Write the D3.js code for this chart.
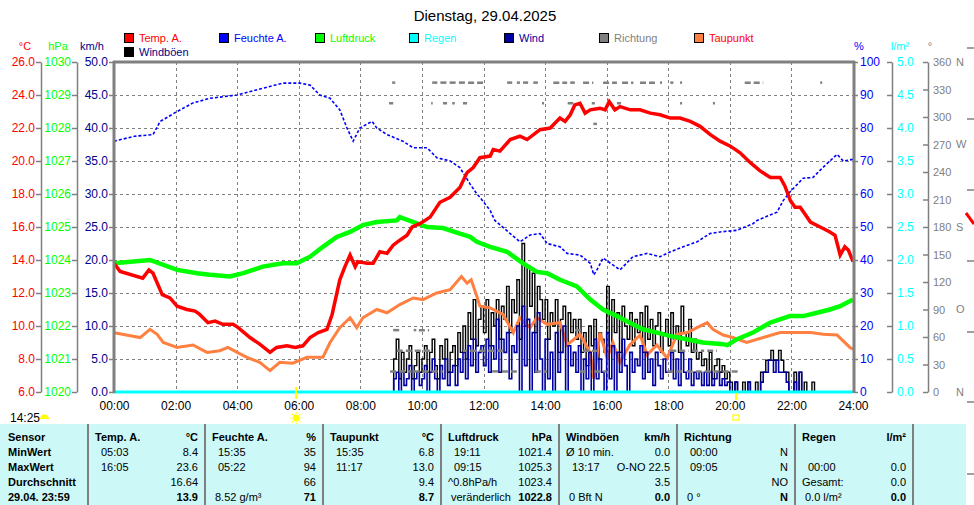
<!DOCTYPE html>
<html><head><meta charset="utf-8">
<script src="https://cdn.jsdelivr.net/npm/d3@7"></script>
<style>
body{margin:0;background:#fff}
svg{display:block}
text{font-family:"Liberation Sans",Arial,sans-serif}
</style>
</head><body>
<svg id="c" width="974" height="505"></svg>
<script>
// ---------- DATA ----------
const title = "Dienstag, 29.04.2025";
const xTickLabels = ["00:00","02:00","04:00","06:00","08:00","10:00","12:00","14:00","16:00","18:00","20:00","22:00","24:00"];
const tempTicks = [6,8,10,12,14,16,18,20,22,24,26];
const pressTicks = [1020,1021,1022,1023,1024,1025,1026,1027,1028,1029,1030];
const windTicks = [0,5,10,15,20,25,30,35,40,45,50];
const humTicks = [0,10,20,30,40,50,60,70,80,90,100];
const rainTicks = [0,0.5,1,1.5,2,2.5,3,3.5,4,4.5,5];
const dirTicks = [0,30,60,90,120,150,180,210,240,270,300,330,360];
const dirLetters = {0:"N",90:"O",180:"S",270:"W",360:"N"};

const tempTimes = ["00:00","00:12","00:56","01:08","01:16","01:34","01:49","02:03","02:22","02:38","02:47","03:03","03:17","03:32","03:52","04:02","04:25","04:44","05:04","05:17","05:37","05:53","06:08","06:22","06:38","06:55","07:05","07:20","07:30","07:40","07:50","07:55","08:13","08:25","08:38","08:52","09:04","09:17","09:31","09:41","09:56","10:16","10:35","10:55","11:14","11:28","11:40","11:53","12:13","12:19","12:32","12:52","13:11","13:25","13:50","14:10","14:29","14:39","14:49","14:58","15:08","15:18","15:28","15:47","15:57","16:05","16:16","16:26","16:46","17:05","17:25","17:44","18:04","18:23","18:43","19:02","19:22","19:41","20:01","20:20","20:40","20:59","21:19","21:38","21:47","21:58","22:07","22:17","22:26","22:37","22:56","23:15","23:25","23:35","23:44","23:51","24:00"];
const tempValues = [13.8,13.3,12.9,13.4,13.2,11.9,11.7,11.2,11.0,10.9,10.7,10.2,10.3,10.1,10.1,9.9,9.3,8.9,8.4,8.7,8.8,8.7,8.8,9.3,9.6,9.8,10.7,12.8,13.6,14.3,13.6,13.9,13.8,13.8,14.5,14.4,14.9,15.2,15.5,16.0,16.2,16.6,17.5,17.8,18.4,19.3,19.6,20.2,20.3,20.7,20.6,21.3,21.5,21.3,21.9,22.0,22.6,22.4,22.8,23.4,23.5,22.9,23.1,23.2,23.1,23.6,23.1,23.3,23.1,23.1,22.9,22.8,22.6,22.6,22.4,22.1,21.6,21.2,20.9,20.5,19.9,19.4,19.0,19.0,18.5,17.6,17.2,17.2,16.8,16.3,16.0,15.7,15.5,14.3,14.8,14.6,13.9];

const humTimes = ["00:00","00:40","01:16","01:30","02:03","02:34","03:07","04:00","04:44","05:29","06:02","06:22","06:41","07:01","07:20","07:34","07:46","07:59","08:23","08:32","08:52","09:23","09:43","10:10","10:29","10:55","11:14","11:34","11:47","11:53","12:13","12:22","12:52","13:11","13:31","13:50","14:04","14:29","14:43","15:08","15:28","15:35","15:41","15:53","16:12","16:26","16:51","17:19","17:44","18:03","18:29","18:56","19:21","19:41","20:14","20:45","20:53","21:18","21:32","21:44","21:57","22:23","22:42","23:01","23:29","23:41","24:00"];
const humValues = [76,77.5,78,82,85,87.6,89,90,91.8,93.6,93.6,93,90,89,85.5,80,76,80,82,80,78,76,74,74,71,70,68,63,60,59,55,52,48,45.5,47.6,48,45,44,42,41.5,39,35.5,37,40.6,38.5,37,41,42,41,42.4,44,45.5,48,48.5,49,51,52,53.6,54.5,58,60.6,64.8,65,68,72,70,70.5];

const pressTimes = ["00:00","01:10","02:03","02:42","03:07","03:46","04:12","04:50","05:29","05:56","06:22","06:47","07:14","07:40","08:05","08:32","09:11","09:17","10:10","10:41","11:14","11:34","11:47","12:13","12:46","13:17","13:44","14:04","14:29","15:02","15:28","15:53","16:20","16:45","17:11","17:38","18:03","18:36","19:07","19:47","19:55","20:14","20:45","21:18","21:57","22:23","22:50","23:15","23:35","24:00"];
const pressValues = [1023.9,1024.0,1023.7,1023.6,1023.55,1023.5,1023.6,1023.8,1023.9,1023.9,1024.1,1024.4,1024.7,1024.85,1025.06,1025.15,1025.2,1025.3,1025.0,1024.97,1024.8,1024.7,1024.55,1024.4,1024.25,1023.9,1023.64,1023.6,1023.4,1023.2,1022.8,1022.5,1022.3,1022.1,1021.9,1021.8,1021.7,1021.6,1021.5,1021.45,1021.42,1021.6,1021.8,1022.1,1022.3,1022.3,1022.4,1022.5,1022.6,1022.8];

const dewTimes = ["00:00","00:51","01:10","01:24","01:36","02:03","02:34","03:01","03:26","03:42","04:00","04:19","04:44","05:04","05:23","05:48","06:16","06:47","07:01","07:20","07:40","07:53","08:05","08:32","08:52","09:17","09:43","10:02","10:29","10:55","11:17","11:28","11:36","11:47","11:53","12:13","12:38","12:58","13:11","13:31","13:44","14:04","14:29","14:43","15:08","15:28","15:35","15:47","16:01","16:12","16:26","16:45","17:05","17:19","17:38","17:58","18:17","18:37","18:56","19:16","19:27","19:47","20:06","20:33","21:05","21:38","22:11","22:37","23:02","23:29","23:54","24:00"];
const dewValues = [9.6,9.3,9.8,9.5,9.0,8.7,8.85,8.4,8.5,8.7,8.4,8.1,7.8,7.3,7.8,7.75,8.1,8.1,9.0,9.9,10.5,9.9,10.5,11.0,10.8,11.3,11.7,11.6,12.0,12.2,13.0,12.6,12.8,11.8,11.2,11.1,10.7,9.6,10.5,9.9,10.5,10.1,10.2,8.85,9.5,8.4,6.8,9.6,8.05,9.0,7.8,8.85,9.45,8.25,8.85,8.05,9.5,9.6,9.9,10.2,9.8,9.45,9.3,9.0,9.3,9.6,9.6,9.6,9.5,9.45,8.7,8.6];

const rainTimes = ["00:00","24:00"];
const rainValues = [0,0];

// wind & gusts, 5-minute values from 09:00
const windStart = "09:00";
const windStepMin = 5;
const gustValues = [
 0,5,8,2,6,3,5,7,2,4,6,3,
 5,7,3,6,8,4,2,7,5,8,3,6,
 7,4,9,6,10,5,12,8,14,7,11,13,
 9,14,7,12,10,14,8,13,11,16,9,14,
 12,17,8,22.5,10,19,13,18,9,16,14,11,
 14,8,12,10,14,6,11,13,7,12,9,11,
 8,11,6,9,4,10,7,11,5,9,8,6,
 16,7,14,9,12,6,13,10,8,12,7,11,
 9,12,6,13,8,11,7,10,12,6,9,11,
 7,12,8,10,6,13,9,7,11,6,8,5,
 6,4,5,3,6,2,4,5,3,4,2,3,
 1.5,0,1.5,0,0,1.5,0,1.5,0,0,1.5,0,
 3,3,4.8,4.8,6.3,4.8,4.8,6.3,4.8,3,3,0,
 0,3,0,3,0,1.5,0,0,1.5,0,0,0,
 0];
const windValues = [
 0,2,3,0,3,1,2,4,0,2,3,1,
 2,4,0,3,5,2,0,4,2,5,1,3,
 4,1,5,3,6,2,7,4,8,3,6,7,
 4,8,3,7,5,11,3,8,6,9,2,7,
 6,10,0,13,4,11,0,9,3,12,5,0,
 8,2,6,0,9,3,6,10,0,7,4,6,
 3,7,0,5,2,6,0,8,2,5,3,0,
 9,2,7,0,6,3,8,4,0,6,3,5,
 4,7,2,6,3,5,1,6,4,2,5,3,
 3,6,2,5,1,6,3,2,5,1,3,2,
 3,1,3,1,3,1,2,3,1,2,1,1.5,
 0,0,1.5,0,0,0,0,1.5,0,0,0,0,
 1.5,3,3,4.8,4.8,3,4.8,3,3,3,1.5,0,
 0,1.5,0,3,0,0,0,0,0,0,0,0,
 0];

// wind direction observations: from, to, degrees
const dirFrom = ["09:02","10:20","10:36","10:54","11:12","11:30","12:46","13:05","13:17","13:37","14:16","14:49","15:14","15:53","16:30","17:05","17:44","18:04","18:23","20:29","22:56",
 "08:56","10:18","10:41","10:59","11:20","13:54","14:44","15:31","16:02","16:20","18:23","19:27",
 "15:34",
 "09:04","09:44","09:54","14:58",
 "09:11","11:20","11:34","15:14","18:04","18:46","19:16",
 "08:58","09:44","12:17","12:36","13:40","15:08","15:36","17:58","18:36","19:46"];
const dirTo = ["09:08","10:30","10:48","11:06","11:24","11:59","12:56","13:11","13:27","13:46","14:43","14:58","15:34","16:20","16:52","17:38","17:48","18:10","18:27","21:05","23:00",
 "09:04","10:21","10:49","11:04","11:28","13:58","14:55","15:37","16:10","16:28","18:27","19:31",
 "15:41",
 "09:17","09:49","10:14","15:14",
 "10:20","11:28","12:38","15:41","18:40","19:10","19:35",
 "09:40","10:41","12:30","13:05","14:04","15:30","16:00","18:30","19:40","20:16"];
const dirDeg = [337.5,337.5,337.5,337.5,337.5,337.5,337.5,337.5,337.5,337.5,337.5,337.5,337.5,337.5,337.5,337.5,337.5,337.5,337.5,337.5,337.5,
 315,315,315,315,315,315,315,315,315,315,315,315,
 292.5,
 67.5,67.5,67.5,67.5,
 45,45,45,45,45,45,45,
 22.5,22.5,22.5,22.5,22.5,22.5,22.5,22.5,22.5,22.5];

// legend
const legendNames = ["Temp. A.","Feuchte A.","Luftdruck","Regen","Wind","Richtung","Taupunkt"];
const legendFill = ["#ff0000","#0000ff","#00ff00","#00ffff","#0000a0","#808080","#ff8040"];
const legendText = ["#ff0000","#0000ff","#00ff00","#00ffff","#0000a0","#808080","#ff0000"];

// table
const tableHeaders = ["Sensor","Temp. A.","Feuchte A.","Taupunkt","Luftdruck","Windböen","Richtung","Regen"];
const tableUnits = ["","°C","%","°C","hPa","km/h","","l/m²"];
const rowLabels = ["MinWert","MaxWert","Durchschnitt","29.04. 23:59"];
const tableLeft = [
 null,
 ["05:03","16:05","",""],
 ["15:35","05:22","","8.52 g/m³"],
 ["15:35","11:17","",""],
 ["19:11","09:15","^0.8hPa/h","veränderlich"],
 ["Ø 10 min.","13:17","","0 Bft N"],
 ["00:00","09:05","","0 °"],
 ["","00:00","Gesamt:","0.0 l/m²"]];
const tableRight = [
 null,
 ["8.4","23.6","16.64","13.9"],
 ["35","94","66","71"],
 ["6.8","13.0","9.4","8.7"],
 ["1021.4","1025.3","1023.4","1022.8"],
 ["0.0","O-NO 22.5","3.5","0.0"],
 ["N","N","NO","N"],
 ["","0.0","0.0","0.0"]];
const sunshine = "14:25";
const sunrise = "05:55", sunset = "20:12";

// ---------- DRAW ----------
const tp = s => { const [h,m] = s.split(":").map(Number); return h + m/60; };
const svg = d3.select("#c");
const L = 114, R = 853, T = 62, B = 392;
const x = d3.scaleLinear([0,24],[L,R]);
const yT = d3.scaleLinear([6,26],[B,T]);
const yP = d3.scaleLinear([1020,1030],[B,T]);
const yW = d3.scaleLinear([0,50],[B,T]);
const yH = d3.scaleLinear([0,100],[B,T]);
const yR = d3.scaleLinear([0,5],[B,T]);
const yD = d3.scaleLinear([0,360],[B,T]);
const GRAY = "#808080";

svg.append("rect").attr("width",974).attr("height",505).attr("fill","#fff");

// title
svg.append("text").attr("x",485).attr("y",21).attr("text-anchor","middle")
  .attr("font-size",15).text(title);

// unit headers
const units = [["°C",25,"#ff0000"],["hPa",58,"#00ff00"],["km/h",92,"#00008b"],["%",859,"#0000ff"],["l/m²",900,"#00ffff"],["°",930,GRAY]];
units.forEach(u=>svg.append("text").attr("x",u[1]).attr("y",50).attr("text-anchor","middle")
  .attr("font-size",11).attr("fill",u[2]).text(u[0]));

// legend
const legX = [124,219,315,409,504,599,694];
legendNames.forEach((n,i)=>{
  svg.append("rect").attr("x",legX[i]+0.5).attr("y",33.5).attr("width",9).attr("height",9)
    .attr("fill",legendFill[i]).attr("stroke","#000").attr("stroke-width",1);
  svg.append("text").attr("x",legX[i]+15).attr("y",42).attr("font-size",11).attr("fill",legendText[i]).text(n);
});
svg.append("rect").attr("x",124.5).attr("y",47.5).attr("width",9).attr("height",9).attr("fill","#000").attr("stroke","#000");
svg.append("text").attr("x",139).attr("y",56).attr("font-size",11).attr("fill","#00008b").text("Windböen");

// gridlines
const grid = svg.append("g").attr("stroke",GRAY).attr("stroke-width",1).attr("stroke-dasharray","3,3");
tempTicks.slice(1,-1).forEach(v=>grid.append("line").attr("x1",L).attr("x2",R).attr("y1",yT(v)+0.5).attr("y2",yT(v)+0.5));
d3.range(2,24,2).forEach(h=>grid.append("line").attr("x1",Math.round(x(h))+0.5).attr("x2",Math.round(x(h))+0.5).attr("y1",T).attr("y2",B));

// left axes
function styleAxis(g,color,fs){
  g.selectAll("path.domain").attr("stroke",GRAY).attr("stroke-width",1.5);
  g.selectAll(".tick line").attr("stroke",GRAY).attr("stroke-width",1.5);
  g.selectAll(".tick text").attr("fill",color).attr("font-size",fs).attr("font-family","Liberation Sans, Arial, sans-serif");
}
const aT = svg.append("g").attr("transform","translate(41,0)")
  .call(d3.axisLeft(yT).tickValues(tempTicks).tickFormat(d3.format(".1f")).tickSize(5).tickSizeOuter(0).tickPadding(1));
styleAxis(aT,"#ff0000",12);
const aP = svg.append("g").attr("transform","translate(77,0)")
  .call(d3.axisLeft(yP).tickValues(pressTicks).tickFormat(d3.format("d")).tickSize(5).tickSizeOuter(0).tickPadding(1));
styleAxis(aP,"#00ff00",12);
const aW = svg.append("g").attr("transform","translate(114,0)")
  .call(d3.axisLeft(yW).tickValues(windTicks).tickFormat(d3.format(".1f")).tickSize(5).tickSizeOuter(0).tickPadding(1));
styleAxis(aW,"#00008b",12);
aW.select("path.domain").remove();

// right axes
const aH = svg.append("g").attr("transform","translate(854,0)")
  .call(d3.axisRight(yH).tickValues(humTicks).tickFormat(d3.format("d")).tickSize(4).tickSizeOuter(0).tickPadding(2));
styleAxis(aH,"#0000ff",12);
aH.select("path.domain").remove();

function sideAxis(xpos, scale, ticks, fmt, color, fs){
  const g = svg.append("g").attr("transform",`translate(${xpos},0)`)
    .call(d3.axisRight(scale).tickValues(ticks).tickFormat(fmt).tickSize(0).tickSizeOuter(0).tickPadding(5));
  styleAxis(g,color,fs);
  g.selectAll(".tick").append("line").attr("x1",-5).attr("x2",0).attr("stroke",GRAY).attr("stroke-width",1.5);
  return g;
}
sideAxis(892, yR, rainTicks, d3.format(".1f"), "#00ffff", 12);
const aD = sideAxis(928, yD, dirTicks, d3.format("d"), GRAY, 11);
dirTicks.filter(d=>dirLetters[d]).forEach(d=>{
  svg.append("text").attr("x",956).attr("y",yD(d)).attr("dy","0.32em").attr("font-size",11)
    .attr("fill",GRAY).text(dirLetters[d]);
});

// x axis labels
const aX = svg.append("g").attr("transform",`translate(0,${B})`)
  .call(d3.axisBottom(x).tickValues(d3.range(0,25,2)).tickFormat((d,i)=>xTickLabels[i]).tickSize(0).tickPadding(9));
aX.select("path.domain").remove();
aX.selectAll("text").attr("font-size",12).attr("fill","#000");

// series
const pairs = (ts,vs) => ts.map((t,i)=>[tp(t),vs[i]]);
const windPts = vals => vals.map((v,i)=>[tp(windStart)+i*windStepMin/60, v]);
svg.append("clipPath").attr("id","pc").append("rect").attr("x",L).attr("y",T).attr("width",R-L+1).attr("height",B-T+3);
const plot = svg.append("g").attr("clip-path","url(#pc)");

plot.append("path").datum(windPts(gustValues))
  .attr("d",d3.line().curve(d3.curveStepAfter).x(d=>x(d[0])).y(d=>yW(d[1])))
  .attr("fill","none").attr("stroke","#000").attr("stroke-width",1.4);
plot.append("path").datum(pairs(dewTimes,dewValues))
  .attr("d",d3.line().x(d=>x(d[0])).y(d=>yT(d[1])))
  .attr("fill","none").attr("stroke","#ff8040").attr("stroke-width",3);
plot.append("path").datum(windPts(windValues))
  .attr("d",d3.line().curve(d3.curveStepAfter).x(d=>x(d[0])).y(d=>yW(d[1])))
  .attr("fill","none").attr("stroke","#0000a0").attr("stroke-width",1.6);
// direction
dirDeg.forEach((d,i)=>{
  plot.append("line").attr("x1",x(tp(dirFrom[i]))).attr("x2",x(tp(dirTo[i])))
    .attr("y1",yD(d)).attr("y2",yD(d)).attr("stroke",GRAY).attr("stroke-width",2.5)
    .attr("stroke-dasharray","6,3");
});
plot.append("path").datum(pairs(humTimes,humValues))
  .attr("d",d3.line().x(d=>x(d[0])).y(d=>yH(d[1])))
  .attr("fill","none").attr("stroke","#0000ff").attr("stroke-width",1.6).attr("stroke-dasharray","3,2");
plot.append("path").datum(pairs(pressTimes,pressValues))
  .attr("d",d3.line().x(d=>x(d[0])).y(d=>yP(d[1])))
  .attr("fill","none").attr("stroke","#00ff00").attr("stroke-width",4.5);
plot.append("path").datum(pairs(tempTimes,tempValues))
  .attr("d",d3.line().x(d=>x(d[0])).y(d=>yT(d[1])))
  .attr("fill","none").attr("stroke","#ff0000").attr("stroke-width",3.5);
plot.append("path").datum(pairs(rainTimes,rainValues))
  .attr("d",d3.line().x(d=>x(d[0])).y(d=>yR(d[1])))
  .attr("fill","none").attr("stroke","#00ffff").attr("stroke-width",3);

// plot border
svg.append("line").attr("x1",L-1).attr("x2",R+2).attr("y1",T).attr("y2",T).attr("stroke",GRAY).attr("stroke-width",3);
svg.append("line").attr("x1",L).attr("x2",L).attr("y1",T-1).attr("y2",B+1).attr("stroke",GRAY).attr("stroke-width",3);
svg.append("line").attr("x1",R+1).attr("x2",R+1).attr("y1",T-1).attr("y2",B+1).attr("stroke",GRAY).attr("stroke-width",3);

// sun markers
const sr = x(tp(sunrise)), ss = x(tp(sunset));
svg.append("line").attr("x1",sr).attr("x2",sr).attr("y1",387).attr("y2",399).attr("stroke","#ffff00").attr("stroke-width",2);
svg.append("line").attr("x1",ss).attr("x2",ss).attr("y1",393).attr("y2",400).attr("stroke","#ffff00").attr("stroke-width",2);
const sun = svg.append("g").attr("transform",`translate(${sr},418)`);
sun.append("circle").attr("r",3.5).attr("fill","#ffff00");
d3.range(8).forEach(k=>{const a=k*Math.PI/4;
  sun.append("line").attr("x1",Math.cos(a)*4.5).attr("y1",Math.sin(a)*4.5).attr("x2",Math.cos(a)*6).attr("y2",Math.sin(a)*6)
    .attr("stroke","#ffff00").attr("stroke-width",1.2);});
svg.append("rect").attr("x",ss-3).attr("y",415).attr("width",6).attr("height",5).attr("fill","none").attr("stroke","#ffff00").attr("stroke-width",1.2);
svg.append("text").attr("x",10).attr("y",422).attr("font-size",12).text(sunshine);
svg.append("path").attr("d","M40,419 A4.5,4.5 0 0 1 49,419 Z").attr("fill","#ffff00");

// table
svg.append("rect").attr("x",0).attr("y",424).attr("width",966).attr("height",81).attr("fill","#ccf8f8");
const seps = [88,205,323,441,559,677,795,913];
seps.forEach(s=>svg.append("line").attr("x1",s).attr("x2",s).attr("y1",424).attr("y2",505).attr("stroke",GRAY).attr("stroke-width",2));
const rowY = [441,456,471,486,501];
const tb = svg.append("g").attr("font-size",11).attr("fill","#000");
tb.append("text").attr("x",8).attr("y",rowY[0]).attr("font-weight","bold").text(tableHeaders[0]);
rowLabels.forEach((r,i)=>tb.append("text").attr("x",8).attr("y",rowY[i+1]).attr("font-weight","bold").text(r));
for(let c=1;c<tableHeaders.length;c++){
  const lx = seps[c-1]+7, rx = seps[c]-7;
  tb.append("text").attr("x",lx).attr("y",rowY[0]).attr("font-weight","bold").text(tableHeaders[c]);
  tb.append("text").attr("x",rx).attr("y",rowY[0]).attr("font-weight","bold").attr("text-anchor","end").text(tableUnits[c]);
  for(let r=0;r<4;r++){
    const lt = tableLeft[c][r], rt = tableRight[c][r];
    const ind = /^\d\d:\d\d$/.test(lt) ? 6 : (r===3 ? 3 : 0);
    if(lt) tb.append("text").attr("x",lx+ind).attr("y",rowY[r+1]).text(lt);
    if(rt) tb.append("text").attr("x",rx).attr("y",rowY[r+1]).attr("text-anchor","end")
      .attr("font-weight", r===3 ? "bold" : "normal").text(rt);
  }
}

// fragments of the next panel at the right edge
[48,119,190,261,332,402,474].forEach(yy=>svg.append("line").attr("x1",967).attr("x2",974).attr("y1",yy).attr("y2",yy).attr("stroke",GRAY).attr("stroke-width",1.5));
svg.append("path").attr("d","M966,213 L969,217 L971,220 L974,224").attr("fill","none").attr("stroke","#ff0000").attr("stroke-width",3);
</script>
</body></html>
